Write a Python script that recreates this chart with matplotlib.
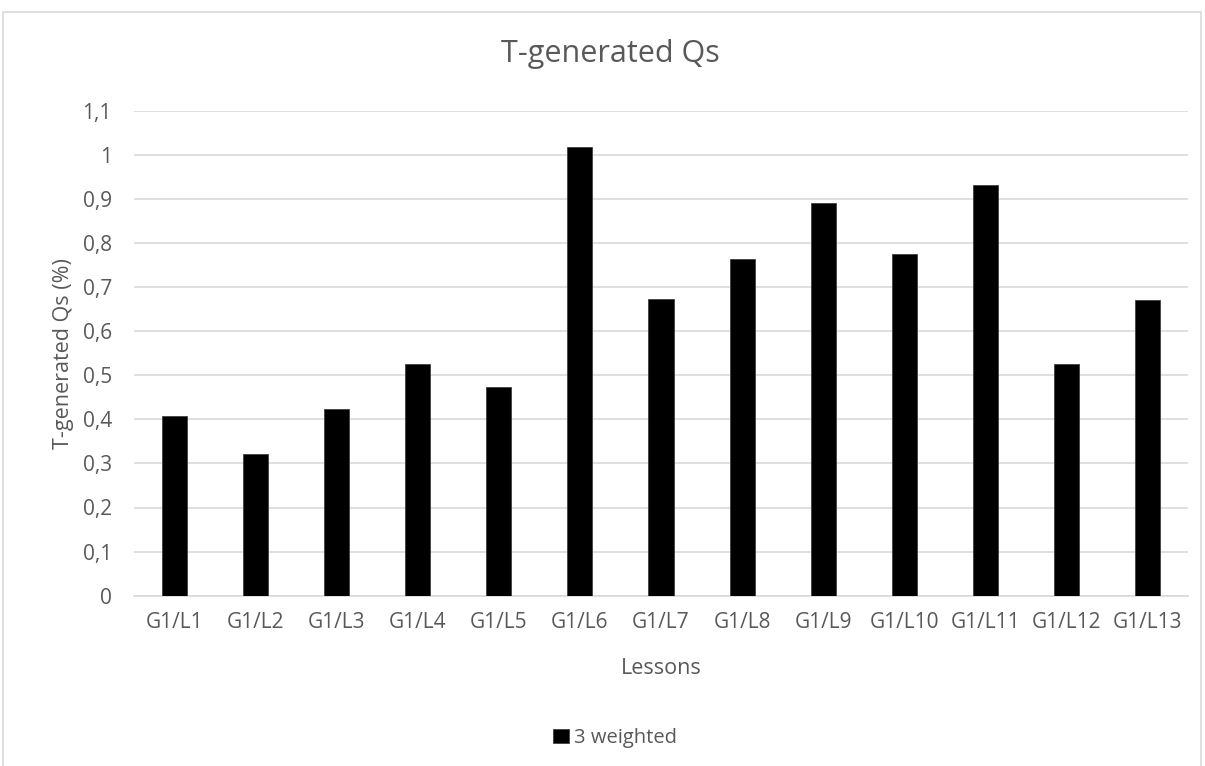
import matplotlib
matplotlib.use("Agg")
import matplotlib.pyplot as plt
from matplotlib.patches import Rectangle

categories = ["G1/L1", "G1/L2", "G1/L3", "G1/L4", "G1/L5", "G1/L6", "G1/L7",
              "G1/L8", "G1/L9", "G1/L10", "G1/L11", "G1/L12", "G1/L13"]
values = [0.407, 0.321, 0.423, 0.525, 0.473, 1.017, 0.672,
          0.763, 0.891, 0.774, 0.932, 0.525, 0.670]
yticks = [0, 0.1, 0.2, 0.3, 0.4, 0.5, 0.6, 0.7, 0.8, 0.9, 1.0, 1.1]
ytick_labels = ["0", "0,1", "0,2", "0,3", "0,4", "0,5", "0,6", "0,7", "0,8", "0,9", "1", "1,1"]
series_name = "3 weighted"

plt.rcParams['font.family'] = ['Open Sans', 'DejaVu Sans']
W, H = 1205, 766
fig = plt.figure(figsize=(W / 100, H / 100), dpi=100)
GRAY = "#595959"

# chart border
fig.patches.append(Rectangle((3 / W, -0.05), (1201 - 3) / W, 1.05 - 12 / H,
                             transform=fig.transFigure, fill=False,
                             edgecolor="#d9d9d9", linewidth=1.2))

left, right = 134 / W, 1188 / W
top, bottom = 1 - 110.6 / H, 1 - 595.7 / H
ax = fig.add_axes([left, bottom, right - left, top - bottom])

x = list(range(len(categories)))
ax.bar(x, values, width=0.31, color="black", edgecolor="#404040", linewidth=0.6,
       label=series_name, zorder=3)
ax.set_xlim(-0.5, len(categories) - 0.5)
ax.set_ylim(0, 1.1)
ax.set_yticks(yticks)
ax.set_yticklabels(ytick_labels)
ax.set_xticks(x)
ax.set_xticklabels(categories)
ax.yaxis.grid(True, color="#d9d9d9", linewidth=1.2, zorder=0)
ax.set_axisbelow(True)
for s in ["top", "right", "left"]:
    ax.spines[s].set_visible(False)
ax.spines["bottom"].set_color("#d9d9d9")
ax.spines["bottom"].set_linewidth(1.2)
ax.tick_params(axis="both", length=0, labelsize=15, labelcolor=GRAY)
ax.tick_params(axis="y", pad=16)
ax.tick_params(axis="x", pad=12)

ax.set_xlabel("Lessons", fontsize=15.5, color=GRAY, labelpad=18)
ax.set_ylabel("T-generated Qs (%)", fontsize=15.5, color=GRAY, labelpad=6)

fig.text(610 / W, 1 - 62 / H, "T-generated Qs", ha="center", va="baseline",
         fontsize=22, color=GRAY)

leg = fig.legend(loc="center", bbox_to_anchor=(615 / W, 1 - 738 / H), frameon=False,
                 fontsize=14.5, handlelength=0.75, handleheight=0.75, handletextpad=0.25)
for t in leg.get_texts():
    t.set_color(GRAY)

fig.savefig("out.png", dpi=100, facecolor="white")
